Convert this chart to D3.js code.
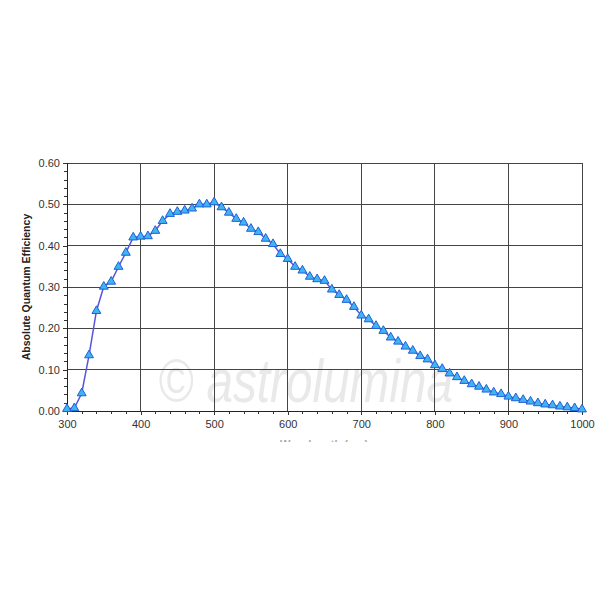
<!DOCTYPE html>
<html><head><meta charset="utf-8">
<script src="https://cdn.jsdelivr.net/npm/d3@7"></script>
<style>body{margin:0;background:#fff}svg{display:block}</style>
</head><body>
<script>
const wavelengths = d3.range(300, 1001, 10);
const efficiency = [
 0.005,0.007,0.043,0.135,0.242,0.301,0.313,0.349,0.383,0.420,
 0.422,0.423,0.436,0.460,0.477,0.482,0.485,0.490,0.500,0.500,
 0.505,0.493,0.480,0.465,0.456,0.441,0.433,0.417,0.404,0.380,
 0.368,0.349,0.340,0.325,0.319,0.315,0.294,0.281,0.269,0.252,
 0.231,0.222,0.206,0.194,0.178,0.168,0.156,0.146,0.133,0.125,
 0.111,0.102,0.091,0.082,0.073,0.065,0.059,0.052,0.045,0.041,
 0.035,0.031,0.027,0.023,0.019,0.016,0.014,0.011,0.009,0.007,
 0.004];
const xTicks = [300,400,500,600,700,800,900,1000];
const yTicks = [0,0.1,0.2,0.3,0.4,0.5,0.6];
const xTitle = "Wavelength (nm)";
const yTitle = "Absolute Quantum Efficiency";
const watermark = "\u00A9 astrolumina";

const W = 600, H = 600;
const m = {left: 67, right: 18, top: 163, bottom: 189};
const svg = d3.select("body").append("svg").attr("width", W).attr("height", H);
const x = d3.scaleLinear().domain([300, 1000]).range([m.left, W - m.right]);
const y = d3.scaleLinear().domain([0, 0.6]).range([H - m.bottom, m.top]);
const font = "'Liberation Sans', Arial, sans-serif";

// watermark (behind marks, faint)
svg.append("text").attr("x", 158).attr("y", 402)
  .attr("textLength", 295).attr("lengthAdjust", "spacingAndGlyphs")
  .style("font-family", font).style("font-size", "62px").style("font-style", "italic")
  .attr("fill", "#d4d4d4").attr("opacity", 0.5).text(watermark);

// grid
svg.append("g").selectAll("line.gx").data(xTicks).join("line")
  .attr("x1", d => x(d)).attr("x2", d => x(d)).attr("y1", y(0)).attr("y2", y(0.6))
  .attr("stroke", "#444").attr("stroke-width", 1).attr("shape-rendering", "crispEdges");
svg.append("g").selectAll("line.gy").data(yTicks).join("line")
  .attr("x1", x(300)).attr("x2", x(1000)).attr("y1", d => y(d)).attr("y2", d => y(d))
  .attr("stroke", "#444").attr("stroke-width", 1).attr("shape-rendering", "crispEdges");

// axes
const xAxis = d3.axisBottom(x).tickValues(xTicks).tickFormat(d3.format("d")).tickSize(4).tickPadding(5);
const gx = svg.append("g").attr("transform", `translate(0,${y(0)})`).call(xAxis);
const gxm = svg.append("g").attr("transform", `translate(0,${y(0)})`)
  .call(d3.axisBottom(x).tickValues(d3.range(300, 1001, 20)).tickSize(3).tickFormat(""));
gxm.select(".domain").remove();
const yAxis = d3.axisLeft(y).tickValues(yTicks).tickFormat(d3.format(".2f")).tickSize(4).tickPadding(3);
const gy = svg.append("g").attr("transform", `translate(${x(300)},0)`).call(yAxis);
const gym = svg.append("g").attr("transform", `translate(${x(300)},0)`)
  .call(d3.axisLeft(y).tickValues(d3.range(0, 0.601, 0.02)).tickSize(3).tickFormat(""));
gym.select(".domain").remove();
[gx, gy, gxm, gym].forEach(g => {
  g.selectAll("line,path").attr("stroke", "#333").attr("shape-rendering", "crispEdges");
  g.selectAll("text").attr("fill", "#333").style("font-family", font).style("font-size", "11px");
});
gx.select(".domain").attr("stroke", "#222");
gy.select(".domain").attr("stroke", "#222");

// axis titles
svg.append("text").attr("transform", `translate(26,${(y(0)+y(0.6))/2}) rotate(-90)`)
  .attr("text-anchor", "middle").attr("dominant-baseline", "central")
  .style("font-family", font).style("font-size", "10.5px").style("font-weight", "bold")
  .attr("fill", "#222").text(yTitle);
svg.append("clipPath").attr("id", "cut").append("rect").attr("x", 0).attr("y", 0).attr("width", W).attr("height", 442);
svg.append("text").attr("clip-path", "url(#cut)").attr("x", 324).attr("y", 448)
  .attr("text-anchor", "middle")
  .style("font-family", font).style("font-size", "11px").style("font-weight", "bold")
  .attr("fill", "#aaa").text(xTitle);

// line + markers
const line = d3.line().x((d, i) => x(wavelengths[i])).y(d => y(d));
svg.append("path").datum(efficiency).attr("d", line)
  .attr("fill", "none").attr("stroke", "#5a55d8").attr("stroke-width", 1.5);
const tri = d3.symbol().type(d3.symbolTriangle).size(34);
svg.append("g").selectAll("path").data(efficiency).join("path")
  .attr("d", tri)
  .attr("transform", (d, i) => `translate(${x(wavelengths[i])},${y(d)})`)
  .attr("fill", "#40b4f0").attr("stroke", "#1f5fd8").attr("stroke-width", 1);
</script>
</body></html>
